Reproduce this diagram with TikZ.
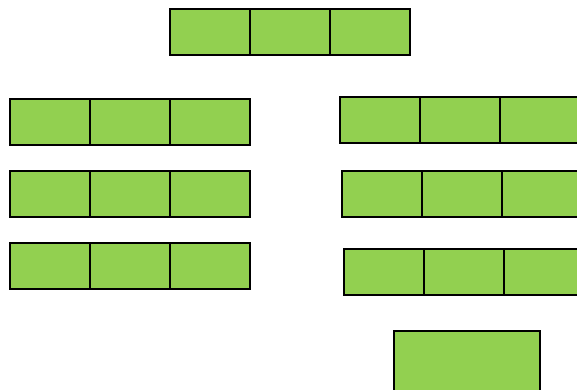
\documentclass[tikz,border=0pt]{standalone}
\usepackage{tikz}
\usetikzlibrary{
    positioning
}
\definecolor{CellGreen}{RGB}{146,208,80}
\tikzset{
    cell/.style={
        draw=black,
        fill=CellGreen,
        line width=1.6pt,
        minimum width=80pt,
        minimum height=46pt,
        inner sep=0pt,
        outer sep=0pt,
        anchor=north west
    }
}

\begin{document}
\begin{tikzpicture}[x=1pt,y=-1pt]
%
    \path[
        use as bounding box,
        clip
    ]
    (0,0)
    rectangle
    (577,389);
%
    \foreach \row/\x/\y in {
        top/170/9,
        leftA/10/99,
        leftB/10/171,
        leftC/10/243,
        rightA/340/97,
        rightB/342/171,
        rightC/344/249
    }{
        \node[cell] (\row-1) at (\x,\y) {};
        \node[cell, right=0pt of \row-1] (\row-2) {};
        \node[cell, right=0pt of \row-2] (\row-3) {};
    }
%
    \node[
        cell,
        minimum width=146pt,
        minimum height=70pt
    ]
    (single) at (394,331) {};
%
\end{tikzpicture}
\end{document}
